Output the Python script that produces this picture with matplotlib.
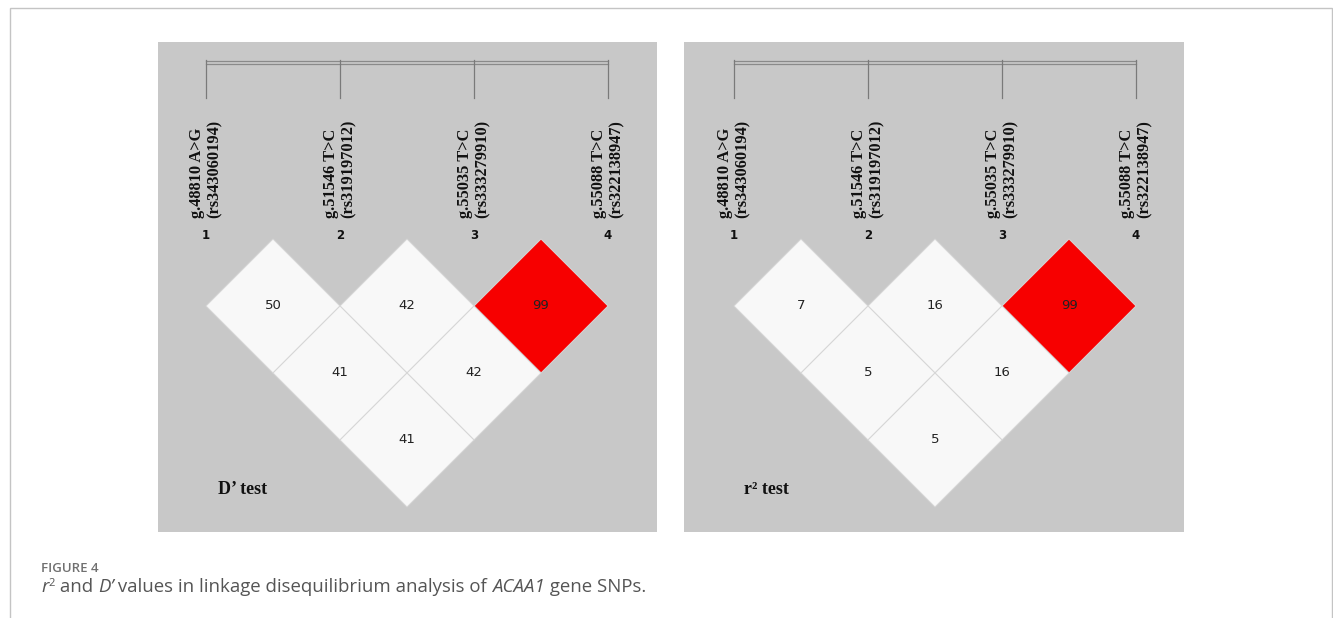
import matplotlib
matplotlib.use("Agg")
import matplotlib.pyplot as plt
from matplotlib.patches import Polygon, Rectangle

# SNP labels
snp_names = ['g.48810 A>G', 'g.51546 T>C', 'g.55035 T>C', 'g.55088 T>C']
rs_ids = ['(rs343060194)', '(rs319197012)', '(rs333279910)', '(rs322138947)']
snp_index = [1, 2, 3, 4]

# pairwise LD values (x100), pairs listed as (i, j)
pairs = [(1, 2), (2, 3), (3, 4), (1, 3), (2, 4), (1, 4)]
d_prime = [50, 42, 99, 41, 42, 41]
r_sq = [7, 16, 99, 5, 16, 5]

W, H = 1333, 618
UNIT = 134.0          # pixels between neighbouring SNPs
TOP_VERTEX = 239      # pixel row where the first diamond row starts

fig = plt.figure(figsize=(W / 100, H / 100), dpi=100)
fig.patch.set_facecolor('white')

# outer frame
fig.patches.append(Rectangle((9.5 / W, -0.1), (1332.5 - 9.5) / W, 1.1 - 8 / H,
                             transform=fig.transFigure, fill=False,
                             edgecolor='#c4c4c4', lw=1.0))


def ld_panel(left, right, top, bottom, offset, values, label):
    ax = fig.add_axes([left / W, 1 - bottom / H, (right - left) / W, (bottom - top) / H])
    ax.set_facecolor('#c8c8c8')
    for s in ax.spines.values():
        s.set_visible(False)
    ax.set_xticks([])
    ax.set_yticks([])
    x0 = 1 - offset / UNIT
    ax.set_xlim(x0, x0 + (right - left) / UNIT)
    ax.set_ylim(-(bottom - TOP_VERTEX) / UNIT, (TOP_VERTEX - top) / UNIT)

    # marker bar with ticks
    bar_y = (TOP_VERTEX - 62.5) / UNIT
    ax.plot([snp_index[0], snp_index[-1]], [bar_y + 0.012, bar_y + 0.012], color='#8a8a8a', lw=0.9)
    ax.plot([snp_index[0], snp_index[-1]], [bar_y - 0.012, bar_y - 0.012], color='#8a8a8a', lw=0.9)
    for k in snp_index:
        ax.plot([k, k], [bar_y + 0.02, (TOP_VERTEX - 98) / UNIT], color='#7a7a7a', lw=0.9)
        ax.text(k - 0.068, 0.16, snp_names[k - 1], rotation=90, ha='center', va='bottom',
                family='Liberation Serif', weight='bold', fontsize=11.8, color='#111111')
        ax.text(k + 0.065, 0.16, rs_ids[k - 1], rotation=90, ha='center', va='bottom',
                family='Liberation Serif', weight='bold', fontsize=11.8, color='#111111')
        ax.text(k, 0.025, str(k), ha='center', va='center', family='DejaVu Sans',
                weight='bold', fontsize=8.5, color='#111111')

    # LD diamonds
    for (i, j), v in zip(pairs, values):
        cx = (i + j) / 2
        cy = -(j - i) / 2
        color = '#f70000' if v >= 80 else '#f8f8f8'
        diamond = Polygon([(cx, cy + 0.5), (cx + 0.5, cy), (cx, cy - 0.5), (cx - 0.5, cy)],
                          closed=True, facecolor=color, edgecolor='#d6d6d6', lw=0.7)
        ax.add_patch(diamond)
        ax.text(cx, cy, str(v), ha='center', va='center', family='DejaVu Sans',
                fontsize=9.5, color='#222222')

    ax.text(x0 + 60 / UNIT, -(490 - TOP_VERTEX) / UNIT, label, ha='left', va='center',
            family='Liberation Serif', weight='bold', fontsize=13, color='#111111')


ld_panel(158, 657, 42, 532, 48, d_prime, 'D’ test')
ld_panel(684, 1184, 42, 532, 50, r_sq, 'r² test')

fig.text(41 / W, 1 - 569 / H, 'FIGURE 4', family='Open Sans', weight='semibold',
         fontsize=9.5, color='#707070', ha='left', va='center')

# caption line, built from pieces so italics stay in the same font
cap_size = 13.4
pieces = [('r', 'italic', cap_size, 0),
          ('2', 'normal', cap_size * 0.6, 6),
          (' and ', 'normal', cap_size, 0),
          ('D’', 'italic', cap_size, 0),
          (' values in linkage disequilibrium analysis of ', 'normal', cap_size, 0),
          ('ACAA1', 'italic', cap_size, 0),
          (' gene SNPs.', 'normal', cap_size, 0)]

renderer = fig.canvas.get_renderer()
x = 41
base = 1 - 592 / H
for txt, style, size, rise in pieces:
    t = fig.text(x / W, base + rise / H, txt, family='Open Sans', style=style, fontsize=size,
                 color='#555555', ha='left', va='baseline')
    x += t.get_window_extent(renderer).width

fig.savefig('out.png', dpi=100)
